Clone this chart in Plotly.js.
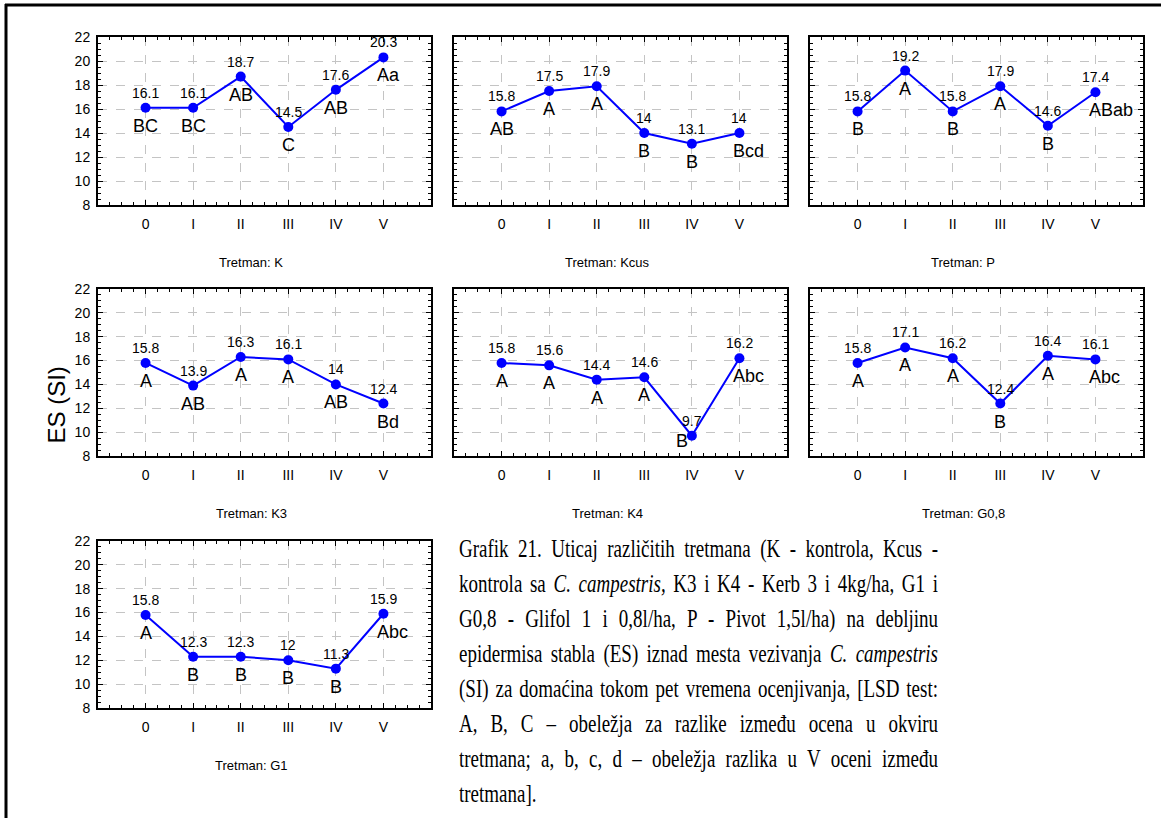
<!DOCTYPE html>
<html><head><meta charset="utf-8">
<script src="https://cdn.plot.ly/plotly-3.0.1.min.js"></script>
<style>
body{margin:0;background:#fff}
#wrap{position:relative;width:1161px;height:818px;overflow:hidden}
#chart{position:absolute;left:0;top:0;width:1161px;height:818px}
#cap{position:absolute;left:459px;top:531px;width:479px;font-family:"Liberation Serif","Times New Roman",serif;font-size:19px;color:#000}
#cap div{height:35px;line-height:35px;text-align:justify;text-align-last:justify;transform:scaleY(1.32);transform-origin:50% 50%}
#cap div.last{text-align:left;text-align-last:left}
</style>
</head><body>
<div id="wrap"><div id="chart"></div>
<div id="cap">
<div>Grafik 21. Uticaj različitih tretmana (K - kontrola, Kcus -</div>
<div>kontrola sa <i>C. campestris,</i> K3 i K4 - Kerb 3 i 4kg/ha, G1 i</div>
<div>G0,8 - Glifol 1 i 0,8l/ha, P - Pivot 1,5l/ha) na debljinu</div>
<div>epidermisa stabla (ES) iznad mesta vezivanja <i>C. campestris</i></div>
<div>(SI) za domaćina tokom pet vremena ocenjivanja, [LSD test:</div>
<div>A, B, C – obeležja za razlike između ocena u okviru</div>
<div>tretmana; a, b, c, d – obeležja razlika u V oceni između</div>
<div class="last">tretmana].</div>
</div></div>
<script>
const categories = ["0","I","II","III","IV","V"];
const panelTitles = ["Tretman: K","Tretman: Kcus","Tretman: P","Tretman: K3","Tretman: K4","Tretman: G0,8","Tretman: G1"];
const valuesK    = [16.1,16.1,18.7,14.5,17.6,20.3];
const valuesKcus = [15.8,17.5,17.9,14,13.1,14];
const valuesP    = [15.8,19.2,15.8,17.9,14.6,17.4];
const valuesK3   = [15.8,13.9,16.3,16.1,14,12.4];
const valuesK4   = [15.8,15.6,14.4,14.6,9.7,16.2];
const valuesG08  = [15.8,17.1,16.2,12.4,16.4,16.1];
const valuesG1   = [15.8,12.3,12.3,12,11.3,15.9];
const lettersK    = ["BC","BC","AB","C","AB","Aa"];
const lettersKcus = ["AB","A","A","B","B","Bcd"];
const lettersP    = ["B","A","B","A","B","ABab"];
const lettersK3   = ["A","AB","A","A","AB","Bd"];
const lettersK4   = ["A","A","A","A","B","Abc"];
const lettersG08  = ["A","A","A","B","A","Abc"];
const lettersG1   = ["A","B","B","B","B","Abc"];
const yTicks = [8,10,12,14,16,18,20,22];
const yTitle = "ES (SI)";

const allValues = [valuesK,valuesKcus,valuesP,valuesK3,valuesK4,valuesG08,valuesG1];
const allLetters = [lettersK,lettersKcus,lettersP,lettersK3,lettersK4,lettersG08,lettersG1];

const W = 1161, H = 818;
const cols = [[98,431],[454,787],[810,1143]];
const rows = [[37,205],[289,456],[541,708]];
const FONT = "Liberation Sans, Arial, sans-serif";
const xpos = categories.map((c,i)=>i);

const data = [];
const layout = {
  width:W, height:H, margin:{l:0,r:0,t:0,b:0},
  paper_bgcolor:'#fff', plot_bgcolor:'#fff', showlegend:false,
  font:{family:FONT, color:'#000'},
  annotations:[], shapes:[]
};

allValues.forEach((vals, i) => {
  const n = i+1;
  const col = i%3, row = Math.floor(i/3);
  const xs = n===1 ? 'x' : 'x'+n, ys = n===1 ? 'y' : 'y'+n;
  data.push({
    type:'scatter', mode:'lines+markers', x:xpos, y:vals, xaxis:xs, yaxis:ys,
    line:{color:'#0000ff', width:2}, marker:{color:'#0000ff', size:10},
    hoverinfo:'skip', cliponaxis:false
  });
  const xd = [cols[col][0]/W, cols[col][1]/W];
  const yd = [1-rows[row][1]/H, 1-rows[row][0]/H];
  const common = {ticks:'inside', tickcolor:'#000', showline:true, linecolor:'#000', linewidth:2,
    mirror:'allticks', showgrid:true, gridcolor:'#c4c4c4', griddash:'dash', gridwidth:1,
    zeroline:false, fixedrange:true};
  layout[n===1?'xaxis':'xaxis'+n] = Object.assign({}, common, {
    domain:xd, anchor:ys, range:[-1,6], tickmode:'array', tickvals:xpos, ticktext:categories,
    ticklen:5, tickfont:{size:14, family:FONT}, ticklabelstandoff:5,
    minor:{tickmode:'linear', tick0:0, dtick:0.25, ticks:'inside', ticklen:3, tickcolor:'#000', showgrid:false}
  });
  layout[n===1?'yaxis':'yaxis'+n] = Object.assign({}, common, {
    domain:yd, anchor:xs, range:[8,22], tickmode:'array', tickvals:yTicks,
    ticklen:5, tickfont:{size:14, family:FONT}, showticklabels: col===0, ticklabelstandoff:3,
    minor:{tickmode:'linear', tick0:8, dtick:0.5, ticks:'inside', ticklen:3, tickcolor:'#000', showgrid:false}
  });
  vals.forEach((v, k) => {
    layout.annotations.push({xref:xs, yref:ys, x:k, y:v, text:String(v), showarrow:false,
      yshift:15, font:{size:14, family:FONT}});
    const isLast = k === vals.length-1;
    const low = v < 10.5;
    layout.annotations.push({xref:xs, yref:ys, x:k, y:v, text:allLetters[i][k], showarrow:false,
      yshift: low ? -5 : -18,
      xanchor: isLast ? 'left' : (low ? 'right' : 'center'),
      xshift: isLast ? -8 : (low ? -2 : 0),
      font:{size:18, family:FONT}});
  });
  layout.annotations.push({xref:xs+' domain', yref:ys+' domain', x:0.46, y:0, yshift:-57,
    text:panelTitles[i], showarrow:false, font:{size:13, family:FONT}, yanchor:'middle'});
});

layout.annotations.push({xref:'paper', yref:'paper', x:40/W, y:1-405/H, text:yTitle,
  textangle:-90, showarrow:false, font:{size:24, family:FONT}});

layout.shapes.push({type:'line', xref:'paper', yref:'paper', x0:5/W, x1:1.01, y0:1-5/H, y1:1-5/H,
  line:{color:'#000', width:3}});
layout.shapes.push({type:'line', xref:'paper', yref:'paper', x0:6/W, x1:6/W, y0:1-4/H, y1:-0.01,
  line:{color:'#000', width:3}});

Plotly.newPlot('chart', data, layout, {staticPlot:true, displayModeBar:false});
</script>
</body></html>
